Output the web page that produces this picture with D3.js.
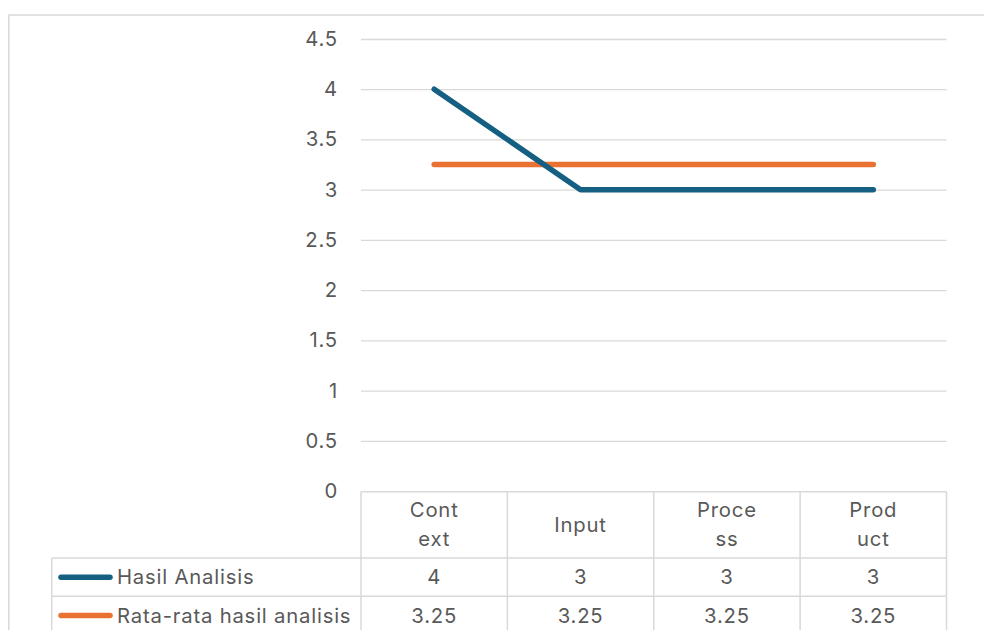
<!DOCTYPE html>
<html>
<head>
<meta charset="utf-8">
<script src="https://cdn.jsdelivr.net/npm/d3@7"></script>
<style>
  html, body { margin: 0; padding: 0; background: #ffffff; }
  svg { display: block; }
  text { font-family: "Inter", "Open Sans", sans-serif; fill: #595959; }
</style>
</head>
<body>
<svg id="chart" width="984" height="630"></svg>
<script>
// Categories and series
const categories = ["Context", "Input", "Process", "Product"];
const headerLines = [["Cont", "ext"], ["Input"], ["Proce", "ss"], ["Prod", "uct"]];
const seriesNames = ["Hasil Analisis", "Rata-rata hasil analisis"];
const hasilAnalisis = [4, 3, 3, 3];
const rataRata = [3.25, 3.25, 3.25, 3.25];
const yTicks = [0, 0.5, 1, 1.5, 2, 2.5, 3, 3.5, 4, 4.5];
const colors = ["#156082", "#E97132"];

const series = [
  { name: seriesNames[0], values: hasilAnalisis, color: colors[0] },
  { name: seriesNames[1], values: rataRata, color: colors[1] }
];

const svg = d3.select("#chart");
const gridColor = "#D9D9D9";
const fontSize = 20.3;
const spacing = "0.8px";

// Layout
const plot = { left: 361, right: 946.5, top: 39, bottom: 491 };
const tableLeft = 51.7;
const rowH = [66.3, 38.3, 38.3];

const x = d3.scaleBand().domain(categories).range([plot.left, plot.right]).padding(0);
const y = d3.scaleLinear().domain([0, 4.5]).range([plot.bottom, plot.top]);
const cx = c => x(c) + x.bandwidth() / 2;

// Outer chart frame (top and left edges visible)
svg.append("path")
  .attr("d", "M8.8,630 V15 H984")
  .attr("fill", "none")
  .attr("stroke", gridColor)
  .attr("stroke-width", 1.5);

// Value axis with gridlines
const yAxis = d3.axisLeft(y)
  .tickValues(yTicks)
  .tickSize(-(plot.right - plot.left))
  .tickPadding(23)
  .tickFormat(d => String(d));

const gy = svg.append("g")
  .attr("transform", `translate(${plot.left},0)`)
  .call(yAxis);
gy.select(".domain").remove();
gy.selectAll(".tick line")
  .attr("stroke", gridColor)
  .attr("stroke-width", 1.3)
  .filter(d => d === 0).remove();
gy.selectAll(".tick text")
  .attr("font-size", fontSize)
  .attr("letter-spacing", spacing)
  .style("font-family", "Inter, 'Open Sans', sans-serif")
  .attr("fill", "#595959");

// Series lines
const line = d3.line()
  .x((d, i) => cx(categories[i]))
  .y(d => y(d));

// Draw orange first so the blue line sits on top where they cross
[series[1], series[0]].forEach(s => {
  svg.append("path")
    .datum(s.values)
    .attr("d", line)
    .attr("fill", "none")
    .attr("stroke", s.color)
    .attr("stroke-width", 5.5)
    .attr("stroke-linecap", "round")
    .attr("stroke-linejoin", "round");
});

// Data table
const yTop = plot.bottom + 0.7;
const rowY = [yTop, yTop + rowH[0], yTop + rowH[0] + rowH[1], yTop + rowH[0] + rowH[1] + rowH[2]];
const colX = categories.map(c => x(c)).concat([plot.right]);
const tbl = svg.append("g");

// Horizontal rules
tbl.append("line")
  .attr("x1", plot.left).attr("x2", plot.right)
  .attr("y1", rowY[0]).attr("y2", rowY[0]);
[rowY[1], rowY[2], rowY[3]].forEach(yy => {
  tbl.append("line")
    .attr("x1", tableLeft).attr("x2", plot.right)
    .attr("y1", yy).attr("y2", yy);
});
// Vertical rules
colX.forEach(xx => {
  tbl.append("line")
    .attr("x1", xx).attr("x2", xx)
    .attr("y1", rowY[0]).attr("y2", rowY[3]);
});
tbl.append("line")
  .attr("x1", tableLeft).attr("x2", tableLeft)
  .attr("y1", rowY[1]).attr("y2", rowY[3]);
tbl.selectAll("line")
  .attr("stroke", gridColor)
  .attr("stroke-width", 1.5);

// Header: category names, wrapped
categories.forEach((c, i) => {
  const lines = headerLines[i];
  const mid = (rowY[0] + rowY[1]) / 2;
  const lh = 29;
  const t = svg.append("text")
    .attr("x", cx(c))
    .attr("text-anchor", "middle")
    .attr("font-size", fontSize)
    .attr("letter-spacing", spacing);
  lines.forEach((ln, k) => {
    t.append("tspan")
      .attr("x", cx(c))
      .attr("y", mid + (k - (lines.length - 1) / 2) * lh)
      .attr("dy", "0.35em")
      .text(ln);
  });
});

// Series rows: legend key, name and values
series.forEach((s, r) => {
  const mid = (rowY[r + 1] + rowY[r + 2]) / 2;
  svg.append("line")
    .attr("x1", 61).attr("x2", 110)
    .attr("y1", mid).attr("y2", mid)
    .attr("stroke", s.color)
    .attr("stroke-width", 5.5)
    .attr("stroke-linecap", "round");
  svg.append("text")
    .attr("x", 117)
    .attr("y", mid)
    .attr("dy", "0.35em")
    .attr("font-size", fontSize)
    .attr("letter-spacing", spacing)
    .text(s.name);
  s.values.forEach((v, i) => {
    svg.append("text")
      .attr("x", cx(categories[i]))
      .attr("y", mid)
      .attr("dy", "0.35em")
      .attr("text-anchor", "middle")
      .attr("font-size", fontSize)
      .attr("letter-spacing", spacing)
      .text(String(v));
  });
});
</script>
</body>
</html>
